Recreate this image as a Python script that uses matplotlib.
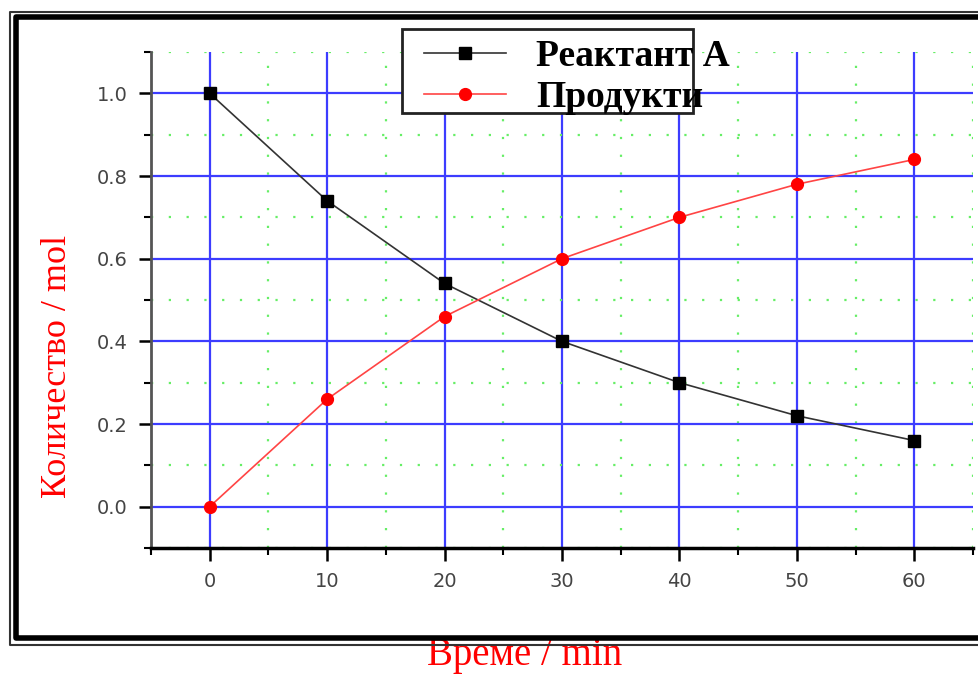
import matplotlib
matplotlib.use('Agg')
import matplotlib.pyplot as plt
from matplotlib.patches import Rectangle
from matplotlib.lines import Line2D
import numpy as np

# data
time_min = [0, 10, 20, 30, 40, 50, 60]
reactant_a = [1.00, 0.74, 0.54, 0.40, 0.30, 0.22, 0.16]
products = [0.00, 0.26, 0.46, 0.60, 0.70, 0.78, 0.84]
series_names = ['Реактант А', 'Продукти']
x_label = 'Време / min'
y_label = 'Количество / mol'

W, H = 979, 675
fig = plt.figure(figsize=(W / 100, H / 100), dpi=100)
fig.patch.set_facecolor('white')

def fx(px):
    return px / W

def fy(py):
    return 1 - py / H

ax = fig.add_axes([fx(151), fy(548), fx(973) - fx(151), fy(52) - fy(548)])
ax.set_xlim(-5, 65)
ax.set_ylim(-0.1, 1.1)

# grid
ax.set_xticks(np.arange(0, 61, 10))
ax.set_xticks(np.arange(-5, 66, 10), minor=True)
ax.set_yticks(np.arange(0, 1.01, 0.2))
ax.set_yticks(np.arange(-0.1, 1.11, 0.2), minor=True)
ax.set_yticklabels(['%.1f' % v for v in np.arange(0, 1.01, 0.2)])
ax.grid(which='major', color='#3c3cff', linewidth=1.6, linestyle='-')
ax.grid(which='minor', color='#66ee66', linewidth=1.6, linestyle=(0, (1, 7)))
ax.set_axisbelow(True)

# spines / ticks
for s in ['top', 'right']:
    ax.spines[s].set_visible(False)
ax.spines['left'].set_color('#555555')
ax.spines['left'].set_linewidth(2)
ax.spines['bottom'].set_color('black')
ax.spines['bottom'].set_linewidth(2.5)
ax.tick_params(which='major', direction='out', length=9, width=1.8, color='black',
               labelsize=14, labelcolor='#444444', pad=8)
ax.tick_params(which='minor', direction='out', length=5, width=1.5, color='black')

# data lines
l1, = ax.plot(time_min, reactant_a, color='#333333', linewidth=1.2,
              marker='s', markersize=8.5, markerfacecolor='black', markeredgecolor='black',
              zorder=5, clip_on=False)
l2, = ax.plot(time_min, products, color='#ff4444', linewidth=1.2,
              marker='o', markersize=8.5, markerfacecolor='red', markeredgecolor='red',
              zorder=5, clip_on=False)

# legend box
fig.add_artist(Rectangle((fx(402), fy(113)), fx(693) - fx(402), fy(29) - fy(113),
                         transform=fig.transFigure, facecolor='white',
                         edgecolor='#222222', linewidth=2, zorder=3))
leg = fig.legend([l1, l2], series_names, loc='upper left',
                 bbox_to_anchor=(fx(424), fy(39)), frameon=False,
                 borderpad=0, borderaxespad=0,
                 prop={'family': 'Liberation Serif', 'weight': 'bold', 'size': 27},
                 handlelength=2.2, handletextpad=0.8, labelspacing=0.15)
leg.set_zorder(4)

# axis titles
fig.text(fx(58), fy(366), y_label, rotation=90, ha='center', va='center',
         color='red', fontsize=26, family='Liberation Serif')
fig.text(fx(525), fy(656), x_label, ha='center', va='center',
         color='red', fontsize=28, family='Liberation Serif')

# outer double frame
fig.add_artist(Line2D([fx(1000), fx(10), fx(10), fx(1000)], [fy(12), fy(12), fy(645), fy(645)],
                      transform=fig.transFigure, color='#333333', linewidth=1.5, zorder=6))
fig.add_artist(Line2D([fx(1000), fx(16), fx(16), fx(1000)], [fy(17), fy(17), fy(638), fy(638)],
                      transform=fig.transFigure, color='black', linewidth=4, zorder=6))

fig.savefig('out.png', dpi=100)
